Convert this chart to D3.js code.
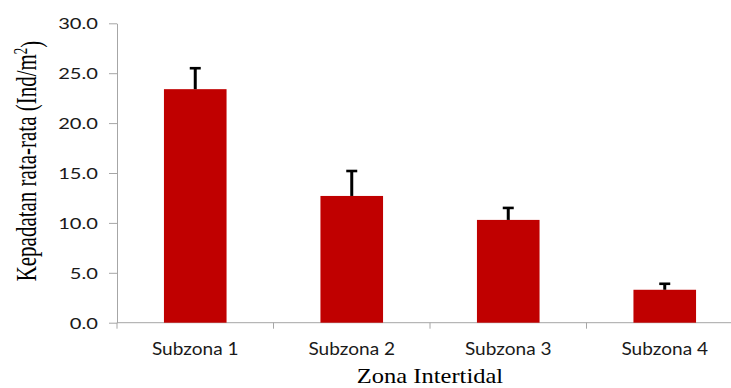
<!DOCTYPE html>
<html>
<head>
<meta charset="utf-8">
<script src="https://cdn.jsdelivr.net/npm/d3@7"></script>
<style>
  html, body { margin: 0; padding: 0; background: #fff; }
  svg { display: block; }
</style>
</head>
<body>
<svg id="chart" width="731" height="388"></svg>
<script>
// Mean density per intertidal subzone, with the upper error bar (SD)
const categories = ["Subzona 1", "Subzona 2", "Subzona 3", "Subzona 4"];
const means = [23.4, 12.7, 10.3, 3.3];
const errors = [2.1, 2.5, 1.2, 0.6];
const yTicks = [0, 5, 10, 15, 20, 25, 30];

const svg = d3.select("#chart");
const W = 731, H = 388;
const plot = { left: 117, right: 743, top: 23.3, bottom: 322.7 };

const x = d3.scaleBand()
  .domain(categories)
  .range([plot.left, plot.right])
  .paddingInner(0.6)
  .paddingOuter(0.3);

const y = d3.scaleLinear().domain([0, 30]).range([plot.bottom, plot.top]);

const axisColor = "#a6a6a6";
const tickFont = "Lato, 'Open Sans', sans-serif";
const serif = "'Liberation Serif', 'Times New Roman', serif";

// Y axis
const yAxis = svg.append("g")
  .attr("transform", `translate(${plot.left},0)`)
  .call(d3.axisLeft(y).tickValues(yTicks).tickFormat(d3.format(".1f"))
    .tickSize(8).tickSizeOuter(0).tickPadding(11));
yAxis.select(".domain").attr("stroke", axisColor).attr("stroke-width", 1);
yAxis.selectAll(".tick line").attr("stroke", axisColor);
yAxis.selectAll(".tick text")
  .attr("fill", "#1a1a1a")
  .style("font-family", tickFont)
  .style("font-size", "15.5px")
  .attr("dy", "0.36em")
  .attr("x", 0)
  .attr("transform", "translate(-19,0) scale(1.3,1)");

// X axis: baseline plus category boundary ticks
const xAxis = svg.append("g");
xAxis.append("line")
  .attr("x1", plot.left).attr("x2", W)
  .attr("y1", y(0)).attr("y2", y(0))
  .attr("stroke", axisColor);
const step = x.step();
const boundaries = categories.map(c => x(c) - (step - x.bandwidth()) / 2);
xAxis.selectAll("line.tick")
  .data(boundaries)
  .join("line")
  .attr("class", "tick")
  .attr("x1", d => d).attr("x2", d => d)
  .attr("y1", y(0)).attr("y2", y(0) + 6)
  .attr("stroke", axisColor);

xAxis.selectAll("text.cat")
  .data(categories)
  .join("text")
  .attr("class", "cat")
  .attr("text-anchor", "middle")
  .attr("fill", "#1a1a1a")
  .style("font-family", tickFont)
  .style("font-size", "17.5px")
  .attr("transform", d => `translate(${x(d) + x.bandwidth() / 2},354.5) scale(1.09,1)`)
  .text(d => d);

// Bars
svg.append("g")
  .selectAll("rect")
  .data(categories)
  .join("rect")
  .attr("x", d => x(d))
  .attr("width", x.bandwidth())
  .attr("y", (d, i) => y(means[i]))
  .attr("height", (d, i) => y(0) - y(means[i]))
  .attr("fill", "#c00000");

// Upper error bars
const eb = svg.append("g").attr("stroke", "#000").attr("stroke-width", 3);
categories.forEach((c, i) => {
  const cx = x(c) + x.bandwidth() / 2;
  const top = y(means[i] + errors[i]);
  eb.append("line").attr("x1", cx).attr("x2", cx)
    .attr("y1", y(means[i])).attr("y2", top);
  eb.append("line").attr("x1", cx - 5.5).attr("x2", cx + 5.5)
    .attr("y1", top).attr("y2", top).attr("stroke-width", 2.6);
});

// Axis titles
svg.append("text")
  .attr("text-anchor", "middle")
  .attr("transform", `translate(${(plot.left + plot.right) / 2},382.5) scale(1.14,1)`)
  .style("font-family", serif)
  .style("font-size", "21.5px")
  .attr("fill", "#000")
  .text("Zona Intertidal");

const yt = svg.append("text")
  .attr("text-anchor", "middle")
  .attr("transform", "translate(35.5,161) rotate(-90) scale(1,1.4)")
  .style("font-family", serif)
  .style("font-size", "21px")
  .attr("fill", "#000");
yt.append("tspan").text("Kepadatan rata-rata (Ind/m");
yt.append("tspan").attr("dy", "-0.45em").style("font-size", "13px").text("2");
yt.append("tspan").attr("dy", "0.45em").text(")");
</script>
</body>
</html>
